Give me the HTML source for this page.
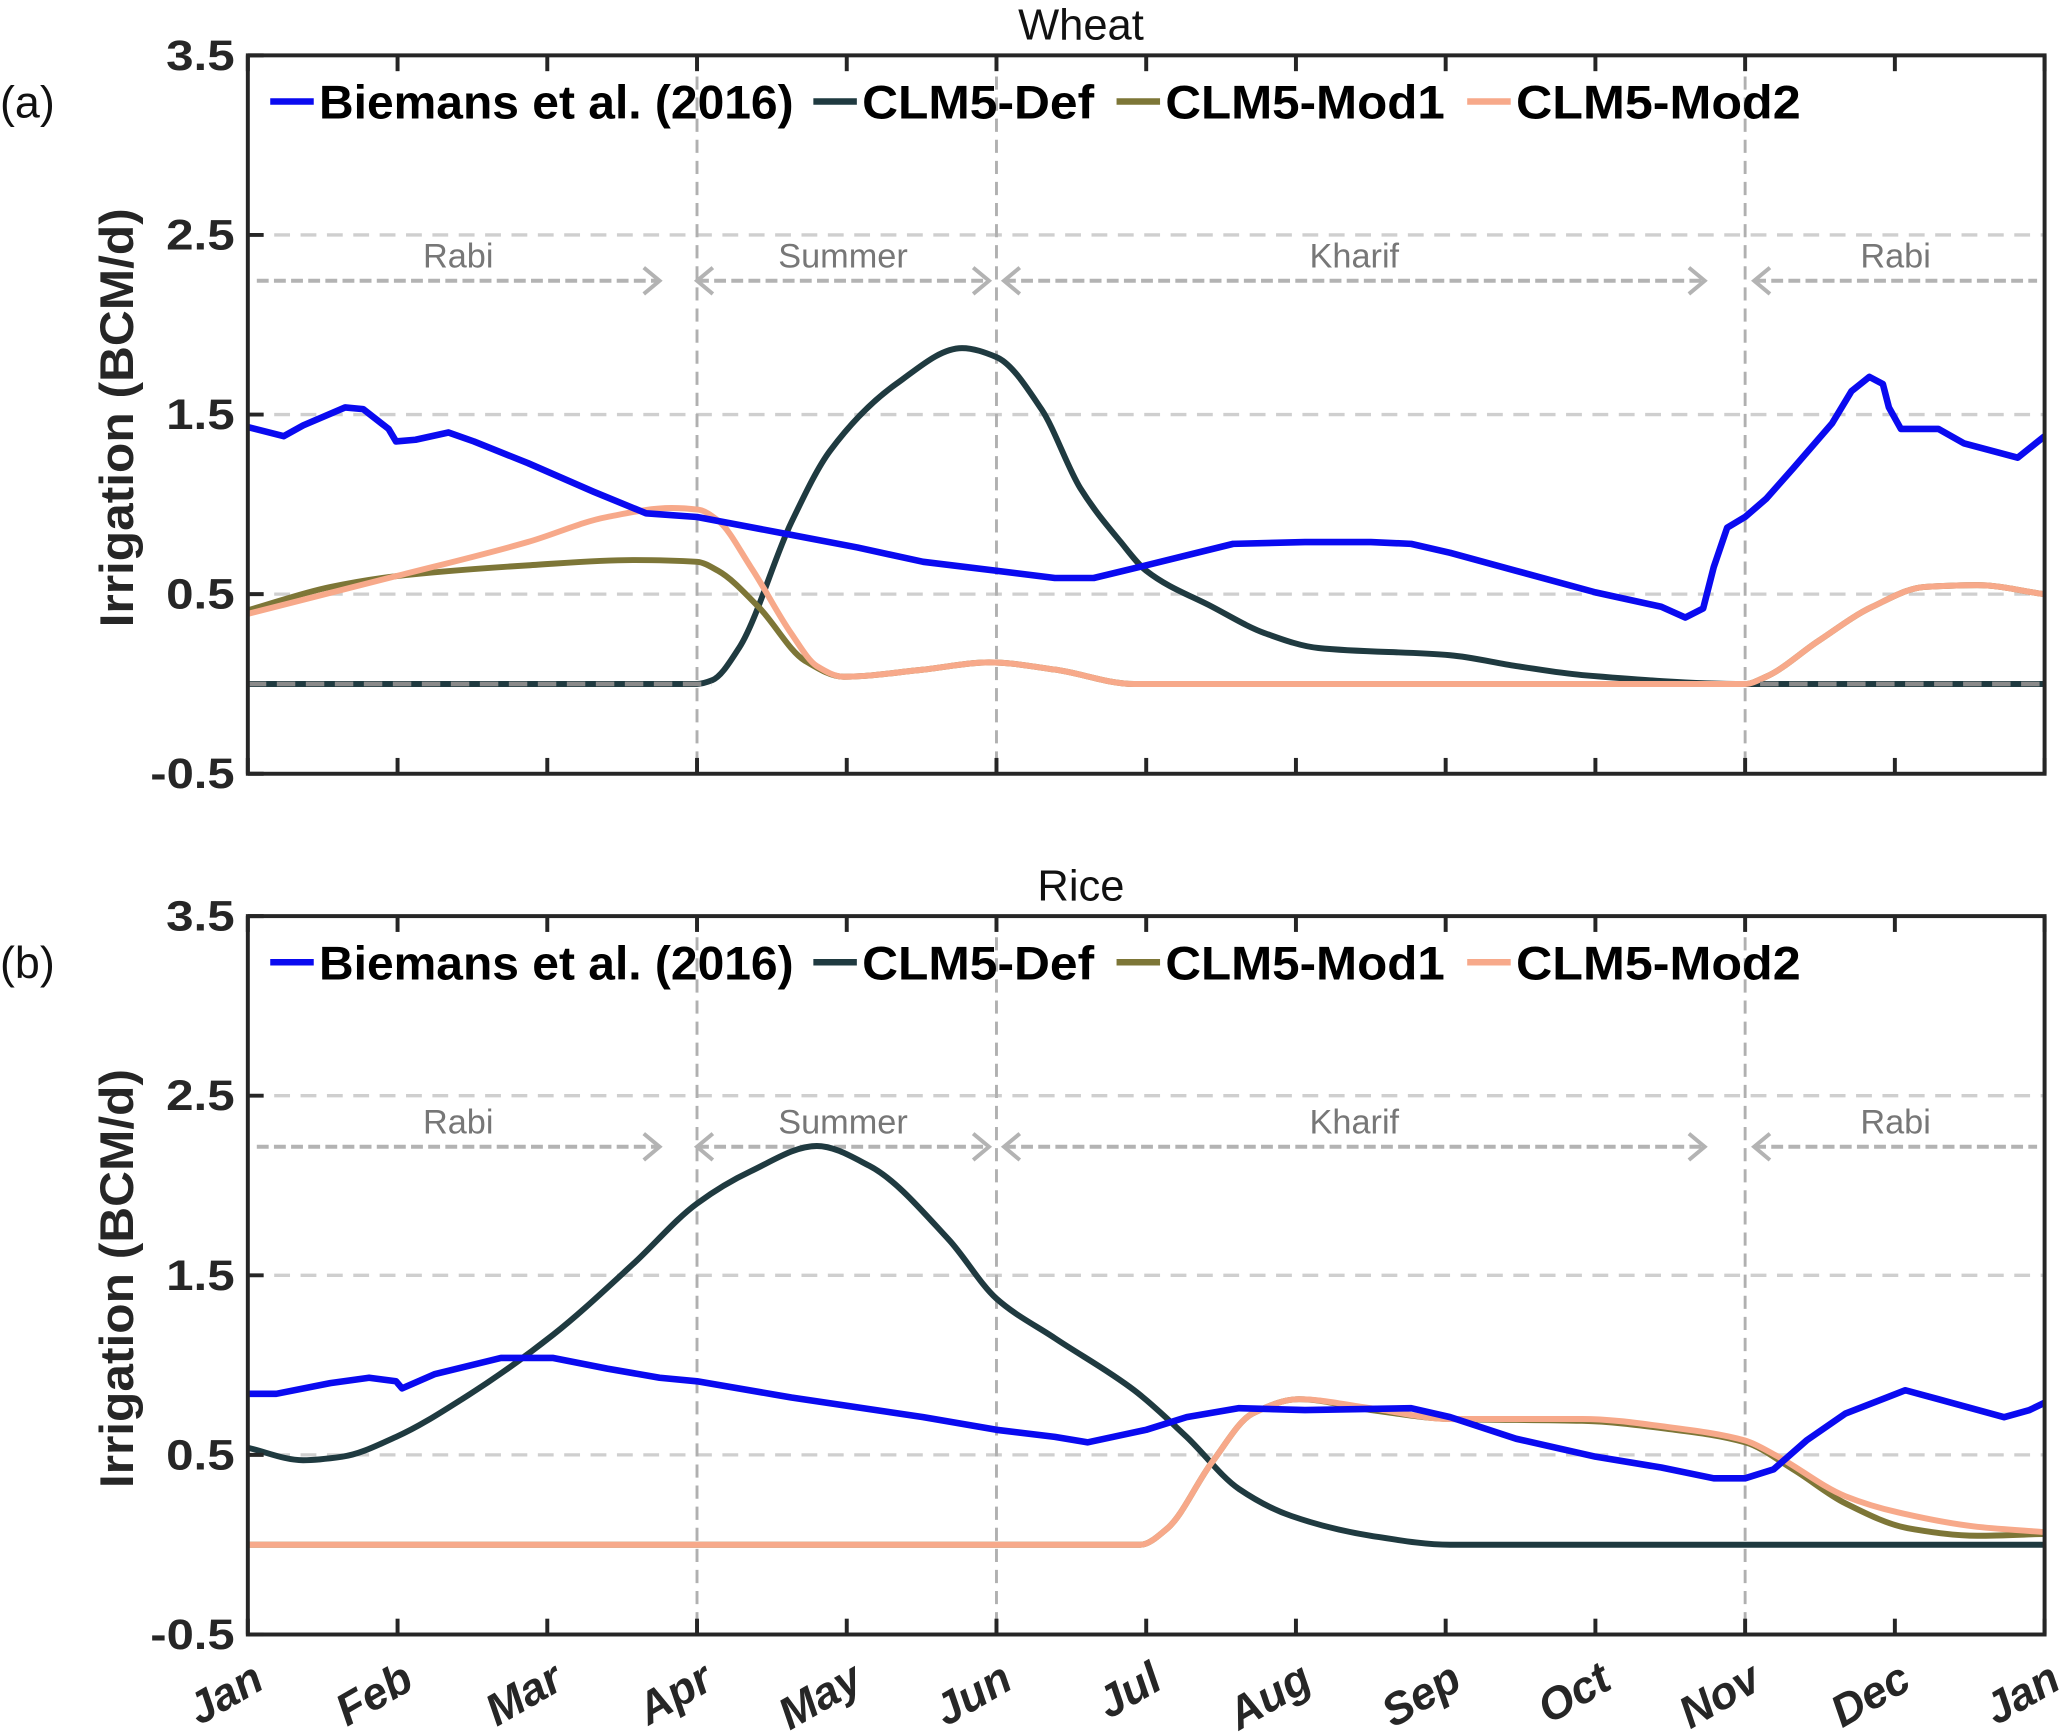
<!DOCTYPE html>
<html><head><meta charset="utf-8"><style>html,body{margin:0;padding:0;background:#fff}svg{display:block}text{font-family:"Liberation Sans",Arial,sans-serif}</style></head>
<body>
<svg id="fig" width="2067" height="1736" viewBox="0 0 1568 1317" preserveAspectRatio="none" xmlns="http://www.w3.org/2000/svg"></svg>
<script>
const months = ["Jan","Feb","Mar","Apr","May","Jun","Jul","Aug","Sep","Oct","Nov","Dec","Jan"];
const yTicks = [3.5,2.5,1.5,0.5,-0.5];
const gridVals = [2.5,1.5,0.5];
const seasonLines = [3,5,10];
// series: [month, value] pairs
const wheatBiemans = [[0,1.43],[0.24,1.38],[0.37,1.44],[0.65,1.54],[0.77,1.53],[0.94,1.42],[0.99,1.35],[1.12,1.36],[1.34,1.40],[1.51,1.35],[1.87,1.23],[2.31,1.07],[2.66,0.95],[3,0.93],[3.63,0.83],[4.07,0.76],[4.51,0.68],[5,0.63],[5.39,0.59],[5.65,0.59],[6.0,0.66],[6.58,0.78],[7.06,0.79],[7.5,0.79],[7.77,0.78],[8.03,0.73],[8.47,0.63],[9.0,0.51],[9.44,0.43],[9.6,0.37],[9.72,0.42],[9.79,0.65],[9.88,0.87],[10,0.93],[10.14,1.03],[10.32,1.2],[10.58,1.45],[10.71,1.63],[10.83,1.71],[10.92,1.67],[10.96,1.54],[11.04,1.42],[11.29,1.42],[11.46,1.34],[11.82,1.26],[12,1.38]];
const wheatDef = [[0,0],[2.9,0],[3,0],[3.1,0.02],[3.28,0.2],[3.63,0.9],[3.89,1.3],[4.33,1.67],[4.77,1.87],[5,1.82],[5.3,1.53],[5.56,1.09],[5.83,0.79],[6.0,0.63],[6.44,0.43],[6.8,0.28],[7.15,0.2],[8.03,0.16],[8.47,0.1],[8.91,0.05],[10,0],[12,0]];
const wheatMod1 = [[0,0.41],[0.55,0.54],[0.99,0.6],[1.87,0.66],[2.57,0.69],[3,0.68],[3.14,0.63],[3.41,0.43],[3.72,0.13],[3.98,0.04],[4.51,0.08],[4.95,0.12],[5.39,0.08],[5.92,0],[10,0],[10.14,0.04],[10.49,0.24],[10.85,0.43],[11.2,0.54],[11.55,0.55],[12,0.5]];
const wheatMod2 = [[0,0.39],[0.99,0.6],[1.87,0.79],[2.4,0.93],[2.83,0.98],[3.01,0.97],[3.14,0.91],[3.36,0.65],[3.63,0.28],[3.8,0.1],[3.98,0.04],[4.51,0.08],[4.95,0.12],[5.39,0.08],[5.92,0],[10,0],[10.14,0.04],[10.49,0.24],[10.85,0.43],[11.2,0.54],[11.55,0.55],[12,0.5]];
const riceBiemans = [[0,0.84],[0.19,0.84],[0.55,0.9],[0.81,0.93],[0.99,0.91],[1.03,0.87],[1.25,0.95],[1.69,1.04],[2.04,1.04],[2.4,0.98],[2.75,0.93],[3,0.91],[3.63,0.82],[4.51,0.71],[5,0.64],[5.39,0.6],[5.61,0.57],[6.0,0.64],[6.27,0.71],[6.62,0.76],[7.06,0.75],[7.77,0.76],[8.03,0.71],[8.47,0.59],[9.0,0.49],[9.44,0.43],[9.79,0.37],[10,0.37],[10.19,0.42],[10.41,0.58],[10.67,0.73],[11.07,0.86],[11.29,0.81],[11.73,0.71],[11.9,0.75],[12,0.79]];
const riceDef = [[0,0.54],[0.37,0.47],[0.63,0.49],[0.99,0.6],[1.43,0.81],[2.04,1.17],[2.57,1.56],[3,1.9],[3.36,2.08],[3.8,2.22],[4.15,2.11],[4.68,1.7],[5,1.37],[5.39,1.15],[5.92,0.86],[6.27,0.6],[6.62,0.31],[6.97,0.16],[7.5,0.05],[8.03,0],[12,0]];
const riceMod1 = [[0,0],[5.9,0],[5.96,0],[6.14,0.09],[6.44,0.46],[6.71,0.73],[7.02,0.81],[7.5,0.75],[8.03,0.7],[8.91,0.69],[9.53,0.64],[10,0.57],[10.32,0.42],[10.67,0.23],[11.1,0.09],[11.55,0.05],[12,0.06]];
const riceMod2 = [[0,0],[5.9,0],[5.96,0],[6.14,0.09],[6.44,0.46],[6.71,0.73],[7.02,0.81],[7.5,0.76],[8.03,0.7],[8.91,0.7],[9.53,0.65],[10,0.58],[10.2,0.5],[10.67,0.27],[11.02,0.18],[11.55,0.1],[12,0.07]];
const seasons = [["Rabi",0.06,2.75,"r"],["Summer",3,4.95,"b"],["Kharif",5.05,9.73,"b"],["Rabi",10.06,11.95,"l"]];
const legendItems = [["Biemans et al. (2016)","#0a0af0"],["CLM5-Def","#1f3a40"],["CLM5-Mod1","#7d7637"],["CLM5-Mod2","#f7a98a"]];

const NS="http://www.w3.org/2000/svg";
const svg=document.getElementById('fig');
function mk(tag,attrs,parent){const e=document.createElementNS(NS,tag);for(const k in attrs)e.setAttribute(k,attrs[k]);(parent||svg).appendChild(e);return e;}
const L=188,R=1551;
const xs=m=>L+m*(R-L)/12;
// monotone cubic (Fritsch-Carlson), no overshoot
function smoothPath(P){
 const n=P.length,dx=[],s=[],m=[];
 for(let i=0;i<n-1;i++){dx[i]=P[i+1][0]-P[i][0];s[i]=(P[i+1][1]-P[i][1])/dx[i];}
 m[0]=s[0];m[n-1]=s[n-2];
 for(let i=1;i<n-1;i++){
  if(s[i-1]*s[i]<=0)m[i]=0;
  else{const w1=2*dx[i]+dx[i-1],w2=dx[i]+2*dx[i-1];m[i]=(w1+w2)/(w1/s[i-1]+w2/s[i]);}
 }
 let d=`M${P[0][0].toFixed(1)},${P[0][1].toFixed(1)}`;
 for(let i=0;i<n-1;i++){
  const h=dx[i]/3;
  d+=` C${(P[i][0]+h).toFixed(1)},${(P[i][1]+m[i]*h).toFixed(1)} ${(P[i+1][0]-h).toFixed(1)},${(P[i+1][1]-m[i+1]*h).toFixed(1)} ${P[i+1][0].toFixed(1)},${P[i+1][1].toFixed(1)}`;
 }
 return d;
}

const panels=[
 {name:"wheat",title:"Wheat",tag:"(a)",top:42,bot:587,series:[wheatBiemans,wheatDef,wheatMod1,wheatMod2],seasonY:195,zeroDash:true},
 {name:"rice",title:"Rice",tag:"(b)",top:695,bot:1240,series:[riceBiemans,riceDef,riceMod1,riceMod2],seasonY:852,zeroDash:false}
];
panels.forEach((p,pi)=>{
 const ys=v=>p.bot-(v+0.5)*(p.bot-p.top)/4;
 const g=mk('g',{});
 
 
 gridVals.forEach(v=>{const l=mk('line',{x1:L,x2:R,y1:ys(v),y2:ys(v),stroke:'#cfcfcf','stroke-width':2.5,'stroke-dasharray':'12,8'},g);
  });
 seasonLines.forEach(m=>{const l=mk('line',{x1:xs(m),x2:xs(m),y1:p.top,y2:p.bot,stroke:'#b0b0b0','stroke-width':2.2,'stroke-dasharray':'10,6'},g);
  });
 seasons.forEach(s=>{
  const [lab,a,b,dir]=s;const x1=xs(a),x2=xs(b),y=p.seasonY+18;
  const t=mk('text',{x:(x1+x2)/2,y:p.seasonY+8,'text-anchor':'middle','font-size':26,fill:'#777'},g);t.textContent=lab;
  
  const l=mk('line',{x1:x1,x2:x2,y1:y,y2:y,stroke:'#b3b3b3','stroke-width':3,'stroke-dasharray':'9,4'},g);
  
  if(dir==='r'||dir==='b')mk('polyline',{points:`${x2-12},${y-10} ${x2},${y} ${x2-12},${y+10}`,fill:'none',stroke:'#b3b3b3','stroke-width':3},g);
  if(dir==='l'||dir==='b')mk('polyline',{points:`${x1+12},${y-10} ${x1},${y} ${x1+12},${y+10}`,fill:'none',stroke:'#b3b3b3','stroke-width':3},g);
 });
 const cols=['#0a0af0','#1f3a40','#7d7637','#f7a98a'];
 const names=['biemans','clm5-def','clm5-mod1','clm5-mod2'];
 const drawSeries=i=>{
  const P=p.series[i].map(d=>[xs(d[0]),ys(d[1])]);
  let el;
  if(i===0){el=mk('polyline',{points:P.map(q=>q[0].toFixed(1)+','+q[1].toFixed(1)).join(' '),fill:'none',stroke:cols[i],'stroke-width':5,'stroke-linejoin':'round'},g);}
  else{el=mk('path',{d:smoothPath(P),fill:'none',stroke:cols[i],'stroke-width':4.5,'stroke-linejoin':'round'},g);}
  
  
 };
 drawSeries(1);drawSeries(2);
 if(p.zeroDash){const z=mk('line',{x1:L,x2:xs(3.1),y1:ys(0),y2:ys(0),stroke:'#8a8a8a','stroke-width':3.5,'stroke-dasharray':'14,8'},g);
  }
 drawSeries(3);
 if(p.zeroDash){const z=mk('line',{x1:xs(10.1),x2:R,y1:ys(0),y2:ys(0),stroke:'#8a8a8a','stroke-width':3.5,'stroke-dasharray':'14,8'},g);
  }
 drawSeries(0);
 const box=mk('rect',{x:L,y:p.top,width:R-L,height:p.bot-p.top,fill:'none',stroke:'#262626','stroke-width':3},g);
 
 yTicks.forEach(v=>{
  mk('line',{x1:L,x2:L+12,y1:ys(v),y2:ys(v),stroke:'#262626','stroke-width':3},g);
  const t=mk('text',{x:L-10,y:ys(v)+11,'text-anchor':'end','font-size':32,'font-weight':'bold',fill:'#262626',textLength:v<0?64:52,lengthAdjust:'spacingAndGlyphs'},g);
  t.textContent=v.toFixed(1);
 });
 months.forEach((m,i)=>{
  const x=xs(i);
  mk('line',{x1:x,x2:x,y1:p.bot,y2:p.bot-12,stroke:'#262626','stroke-width':3},g);
  mk('line',{x1:x,x2:x,y1:p.top,y2:p.top+12,stroke:'#262626','stroke-width':3},g);
  if(pi===1){const t=mk('text',{x:x+14,y:p.bot+40,'text-anchor':'end','font-size':34,'font-weight':'bold','font-style':'italic',fill:'#262626',transform:`rotate(-30 ${x+14} ${p.bot+40})`},g);
   t.textContent=m;}
 });
 const ttl=mk('text',{x:820,y:p.top-12,'text-anchor':'middle','font-size':33,fill:'#111'},g);ttl.textContent=p.title;
 
 const tg=mk('text',{x:0,y:p.top+47,'font-size':34,fill:'#111'},g);tg.textContent=p.tag;
 
 const yl=mk('text',{x:0,y:0,'text-anchor':'middle','font-size':36,'font-weight':'bold',fill:'#262626',transform:`translate(101 ${p.top+275}) rotate(-90)`,textLength:318,lengthAdjust:'spacingAndGlyphs'},g);
 yl.textContent='Irrigation (BCM/d)';
 const lx=[205,617,847,1113],tl=[360,176,212,216];
 legendItems.forEach((it,i)=>{
  const ly=p.top+35;
  const lg=mk('g',{},g);
  mk('line',{x1:lx[i],x2:lx[i]+33,y1:ly,y2:ly,stroke:it[1],'stroke-width':5},lg);
  const t=mk('text',{x:lx[i]+37,y:ly+13,'font-size':36,'font-weight':'bold',fill:'#000',textLength:tl[i],lengthAdjust:'spacingAndGlyphs'},lg);
  t.textContent=it[0];
 });
});
</script>
</body></html>
